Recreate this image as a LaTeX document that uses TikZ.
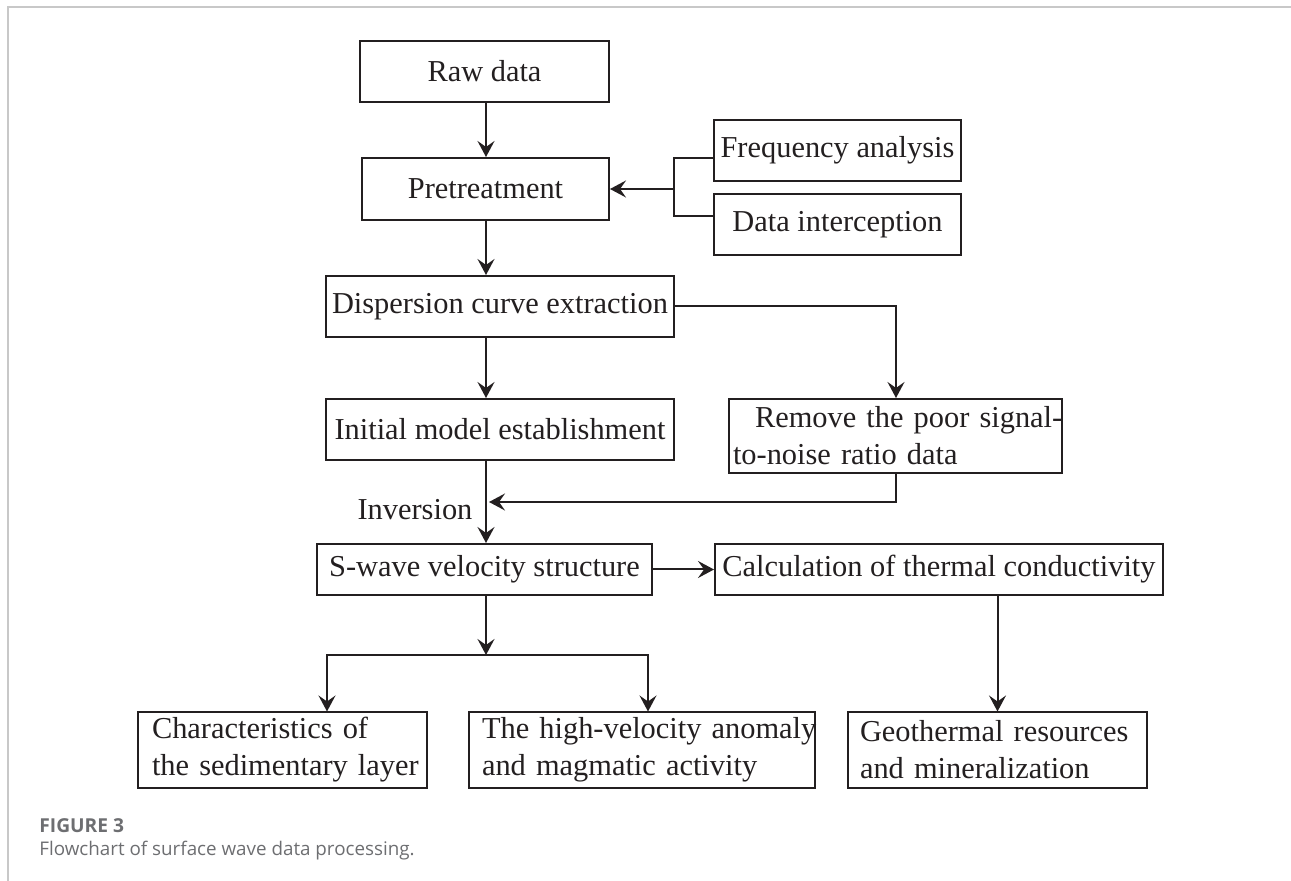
\documentclass[tikz,border=0pt]{standalone}
\usepackage{fontspec}
\setmainfont{Liberation Serif}
\newfontfamily\capfont{Open Sans}
\usetikzlibrary{arrows.meta}
\definecolor{ink}{HTML}{231F20}
\definecolor{capgrey}{HTML}{6D6E71}
\definecolor{framegrey}{HTML}{C8C8C8}

\begin{document}
\begin{tikzpicture}[x=0.5pt,y=-0.5pt,
  box/.style={draw=ink,line width=1pt,inner sep=0pt,text=ink,
    font=\fontsize{15.2}{18.5}\selectfont},
  twobox/.style 2 args={box,align=left,text width=#1,
    execute at begin node={\leftskip=#2\rightskip=-12pt plus 1fil}},
  arr/.style={draw=ink,line width=1pt,
    -{Stealth[length=8pt,width=8.5pt,inset=3pt]}},
  link/.style={draw=ink,line width=1pt},
  lbl/.style={inner sep=0pt,text=ink,font=\fontsize{15.2}{18}\selectfont}]
\useasboundingbox (0,0) rectangle (1291,881);
% draw page frame
\draw[framegrey,line width=1pt] (7.5,881) -- (7.5,7.5) -- (1291,7.5);
% draw boxes
\node[box,minimum width=124.5pt,minimum height=30.5pt] (raw) at (484.5,71.5) {Raw data};
\node[box,minimum width=123.5pt,minimum height=31pt] (pre) at (485.5,189) {Pretreatment};
\node[box,minimum width=123.5pt,minimum height=30.5pt] (freq) at (837.5,150.5) {Frequency analysis};
\node[box,minimum width=123.5pt,minimum height=30.5pt] (dint) at (837.5,224.5) {Data interception};
\node[box,minimum width=174pt,minimum height=30.5pt] (disp) at (500,306.5) {Dispersion curve extraction};
\node[box,minimum width=174pt,minimum height=30.5pt] (init) at (500,429.5) {Initial model establishment};
\node[twobox={166.5pt}{2pt},minimum height=37pt] (remove) at (895.5,436)
  {\hspace*{11pt}\mbox{Remove the poor signal-}\\to-noise ratio data};
\node[box,minimum width=167.5pt,minimum height=25.5pt] (sw) at (484.5,569.5) {S-wave velocity structure};
\node[box,minimum width=224pt,minimum height=25.5pt] (calc) at (939,569.5) {Calculation of thermal conductivity};
\node[twobox={144.5pt}{7pt},minimum height=37.5pt] (char) at (282.5,750)
  {Characteristics of\\the sedimentary layer};
\node[twobox={173pt}{6.5pt},minimum height=37.5pt] (high) at (642,750)
  {The high-velocity anomaly\\and magmatic activity};
\node[twobox={149.5pt}{6pt},minimum height=37.5pt] (geo) at (997.5,750)
  {Geothermal resources\\and mineralization};
% helper points
\coordinate (trunk) at (486,0);
\coordinate (fork) at (674,189);
\coordinate (ret) at (896,502);
\coordinate (branch) at (486,655);
\coordinate (brl) at (327,655);
\coordinate (brr) at (648,655);
% draw main flow
\draw[arr] (raw.south -| trunk) -- (pre.north -| trunk);
\draw[arr] (pre.south -| trunk) -- (disp.north -| trunk);
\draw[arr] (disp.south -| trunk) -- (init.north -| trunk);
\draw[arr] (init.south -| trunk) -- (sw.north -| trunk);
\node[lbl] (inv) at (415,510) {Inversion};
% draw side inputs
\draw[link] ([yshift=-3.75pt]freq.west) -| (fork) |- ([yshift=4.25pt]dint.west);
\draw[arr] (fork) -- (pre.east);
% draw noise removal loop
\draw[arr] (disp.east) -| (remove.north -| ret);
\draw[arr,shorten >=1.5pt] (remove.south -| ret) |- (ret -| trunk);
% draw outputs
\draw[arr] (sw.east) -- (calc.west);
\draw[arr] (sw.south -| trunk) -- (branch);
\draw[arr] (branch) -| (char.north -| brl);
\draw[arr] (branch) -| (high.north -| brr);
\draw[arr] (calc.south -| geo.north) -- (geo.north);
% draw caption
\node[anchor=base west,inner sep=0pt,text=capgrey,font=\capfont\bfseries\fontsize{9.6}{12}\selectfont] (figno) at (39,832) {FIGURE 3};
\node[anchor=base west,inner sep=0pt,text=capgrey,font=\capfont\fontsize{9.4}{11}\selectfont] (figcap) at (39,856) {Flowchart of surface wave data processing.};
\end{tikzpicture}
\end{document}
